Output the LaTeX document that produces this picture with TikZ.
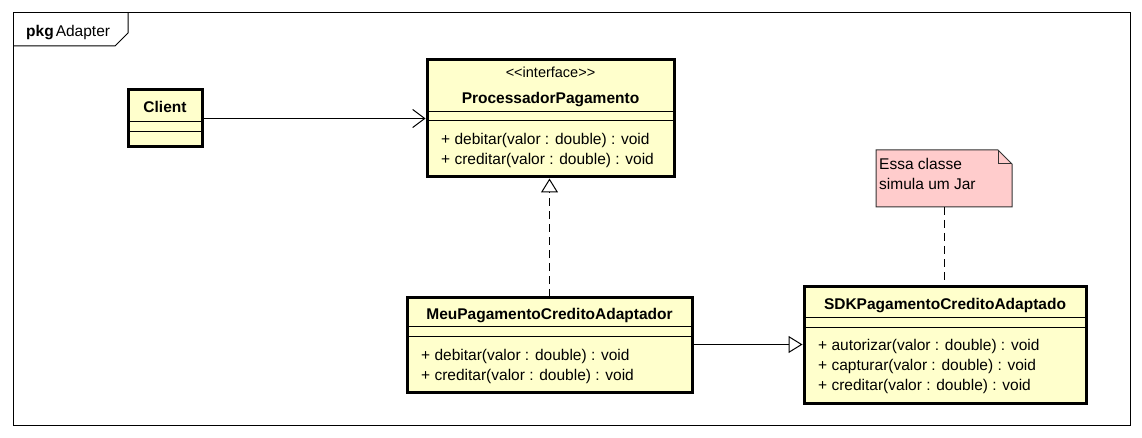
\documentclass[tikz,border=0pt]{standalone}
\usepackage{fontspec}
\setmainfont{Liberation Sans}
\usetikzlibrary{arrows.meta}

\definecolor{classfill}{RGB}{255,255,204}
\definecolor{notefill}{RGB}{255,204,204}

\newcommand{\umlfont}{\fontsize{15.5}{19.5}\selectfont}

\tikzset{
    classbox/.style={draw, line width=3pt, fill=classfill, inner sep=0pt, outer sep=0pt},
    classname/.style={anchor=base, inner sep=0pt, font=\umlfont\bfseries},
    member/.style={anchor=base west, inner sep=0pt},
    sepline/.style={line width=1pt},
    assoc/.style={line width=1pt, -{Straight Barb[length=12pt, width=18pt]}, shorten >=1.5pt},
    realize/.style={line width=1pt, dash pattern=on 8pt off 5pt, -{Triangle[open, length=14pt, width=17pt]}, shorten >=1.5pt},
    extends/.style={line width=1pt, -{Triangle[open, length=14pt, width=17pt]}, shorten >=1.5pt},
    noteline/.style={line width=1pt, dash pattern=on 8pt off 5pt},
}

\begin{document}
\begin{tikzpicture}[x=1pt, y=-1pt, font=\umlfont]
    \useasboundingbox (0,0) rectangle (1142,438);

    % package frame
    \draw[line width=1pt] (13,13) rectangle (1130,425);
    \draw[line width=1pt] (13,46) -- (115,46) -- (128,33) -- (128,13);
    \node[anchor=base west, inner sep=0pt] (pkglabel) at (26,37) {\textbf{pkg}\kern2pt Adapter};

    % Client
    \node[classbox, minimum width=74pt, minimum height=57pt] (client) at (165,118.5) {};
    \node[classname] (clientname) at (165,113) {Client};
    \draw[sepline] (client.west |- 0,122) -- (client.east |- 0,122);
    \draw[sepline] (client.west |- 0,132) -- (client.east |- 0,132);

    % ProcessadorPagamento
    \node[classbox, minimum width=247pt, minimum height=117pt] (pp) at (550.5,118.5) {};
    \node[anchor=base, inner sep=0pt, font=\fontsize{14.5}{18}\selectfont] (ppstereo) at (550.5,78) {<{}<interface>{}>};
    \node[classname] (ppname) at (550.5,104) {ProcessadorPagamento};
    \draw[sepline] (pp.west |- 0,112) -- (pp.east |- 0,112);
    \draw[sepline] (pp.west |- 0,121) -- (pp.east |- 0,121);
    \node[member] (ppdebitar) at (441,145) {+ debitar(valor : double) : void};
    \node[member] (ppcreditar) at (441,165) {+ creditar(valor : double) : void};

    % MeuPagamentoCreditoAdaptador
    \node[classbox, minimum width=285pt, minimum height=95pt] (adapter) at (549.5,344.5) {};
    \node[classname] (adaptername) at (549.5,319) {MeuPagamentoCreditoAdaptador};
    \draw[sepline] (adapter.west |- 0,326) -- (adapter.east |- 0,326);
    \draw[sepline] (adapter.west |- 0,336) -- (adapter.east |- 0,336);
    \node[member] (addebitar) at (421,360) {+ debitar(valor : double) : void};
    \node[member] (adcreditar) at (421,380) {+ creditar(valor : double) : void};

    % SDKPagamentoCreditoAdaptado
    \node[classbox, minimum width=282pt, minimum height=117pt] (sdk) at (945,344.5) {};
    \node[classname] (sdkname) at (945,309) {SDKPagamentoCreditoAdaptado};
    \draw[sepline] (sdk.west |- 0,317) -- (sdk.east |- 0,317);
    \draw[sepline] (sdk.west |- 0,327) -- (sdk.east |- 0,327);
    \node[member] (sdkautorizar) at (818,350) {+ autorizar(valor : double) : void};
    \node[member] (sdkcapturar) at (818,370) {+ capturar(valor : double) : void};
    \node[member] (sdkcreditar) at (818,390) {+ creditar(valor : double) : void};

    % note
    \node[minimum width=136pt, minimum height=57pt, inner sep=0pt, outer sep=0pt] (note) at (944,178.5) {};
    \draw[line width=1pt, draw=black!80, fill=notefill] (note.north west) -- ([xshift=-14pt]note.north east)
        -- ([yshift=-14pt]note.north east) -- (note.south east) -- (note.south west) -- cycle;
    \draw[line width=1pt, draw=black!80] ([xshift=-14pt]note.north east) |- ([yshift=-14pt]note.north east);
    \node[anchor=north west, inner sep=0pt, align=left] (notetext) at (879,158.5) {Essa classe\\simula um Jar};

    % connectors
    \draw[assoc] (client) -- (pp);
    \draw[realize] (adapter.north) -- (adapter.north |- pp.south);
    \draw[extends] (adapter) -- (sdk);
    \draw[noteline] (note.south) -- (note.south |- sdk.north);
\end{tikzpicture}
\end{document}
